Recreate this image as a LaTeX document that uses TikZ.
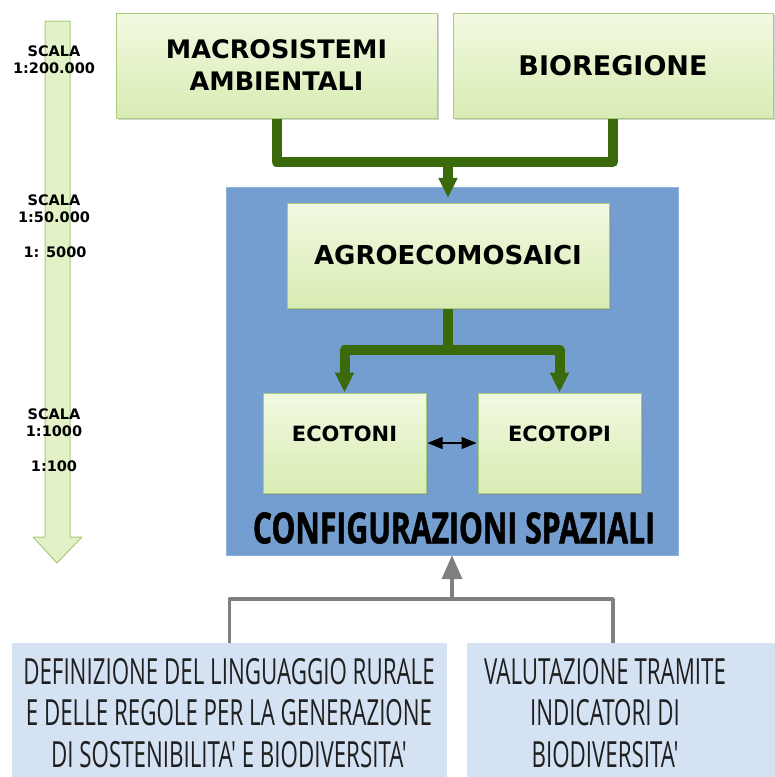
\documentclass[tikz,border=0pt]{standalone}
\usepackage{fontspec}
\setmainfont{DejaVu Sans}
\newfontfamily\condfont[FakeStretch=0.62]{Open Sans}
\newfontfamily\titlefont[FakeStretch=0.70,FakeBold=1.2]{Open Sans}
\usetikzlibrary{arrows.meta,shadows}
\definecolor{boxtop}{HTML}{F2F9E1}
\definecolor{boxbot}{HTML}{D8ECB3}
\definecolor{boxline}{HTML}{A9CC7C}
\definecolor{darkgreen}{HTML}{3B6A0C}
\definecolor{panelblue}{HTML}{739ECF}
\definecolor{paleblue}{HTML}{D5E2F3}
\definecolor{linegray}{HTML}{7F7F7F}

\begin{document}
\begin{tikzpicture}[line cap=butt,line join=round,x=1pt,y=-1pt,
	greenbox/.style={draw=boxline,line width=1pt,top color=boxtop,bottom color=boxbot,
		drop shadow={shadow xshift=1.5pt,shadow yshift=-1.5pt,opacity=0.35},
		inner sep=0pt,align=center,font=\bfseries\fontsize{25.5}{32}\selectfont},
	greenline/.style={draw=darkgreen,line width=10pt},
	greenarrow/.style={greenline,-{Triangle[width=18pt,length=20pt]}},
	scaletext/.style={font=\bfseries\fontsize{14.5}{17}\selectfont,align=center,inner sep=0pt},
	bluebox/.style={fill=paleblue,draw=none,inner sep=0pt},
	bluetext/.style={font=\condfont\fontsize{36}{41.5}\selectfont,align=center,text=black!88,inner sep=0pt}]
				\useasboundingbox (0,0) rectangle (775,777);
				% Scala
				\draw[draw=boxline,fill=boxbot!75!white,line width=1pt] (45,21)--(70,21)--(70,537)--(82,537)--(57,563)--(33,537)--(45,537)--cycle;
				\node[scaletext] (s1) at (54,60) {SCALA\\1:200.000};
				\node[scaletext] (s2) at (54,209) {SCALA\\1:50.000};
				\node[scaletext] (s3) at (55,252) {1: 5000};
				\node[scaletext] (s4) at (54,423) {SCALA\\1:1000};
				\node[scaletext] (s5) at (54,466) {1:100};
				% Livello 1
				\node[greenbox,minimum width=321,minimum height=105] (macro) at (276.5,65.5) {MACROSISTEMI\\AMBIENTALI};
				\node[greenbox,minimum width=320,minimum height=105,font=\bfseries\fontsize{27}{32}\selectfont] (bioreg) at (613,65.5) {BIOREGIONE};
				% Configurazioni
				\node[fill=panelblue,draw=panelblue!80!white,minimum width=452,minimum height=368,inner sep=0pt] (config) at (452,371) {};
				\node[font=\titlefont\bfseries\fontsize{43}{48}\selectfont,inner sep=0pt] (configtxt) at (454,528) {CONFIGURAZIONI SPAZIALI};
				\node[greenbox,minimum width=322,minimum height=105,font=\bfseries\fontsize{26}{32}\selectfont] (agro) at (448,255.5) {AGROECOMOSAICI};
				\node[greenbox,minimum width=163,minimum height=100,font=\bfseries\fontsize{21}{26}\selectfont,text depth=18pt] (ecotoni) at (344.5,443) {ECOTONI};
				\node[greenbox,minimum width=163,minimum height=100,font=\bfseries\fontsize{21}{26}\selectfont,text depth=18pt] (ecotopi) at (559.5,443) {ECOTOPI};
				% Frecce verdi
				\coordinate (jn1) at (448,162);
				\draw[greenline] (macro.south) |- (jn1) -| (bioreg.south);
				\draw[greenarrow] (jn1) -- ([yshift=-11pt]jn1 |- config.north);
				\coordinate (jn2) at (448,350);
				\draw[greenline] (agro.south) -- (jn2);
				\draw[greenarrow] (jn2) -| (ecotoni.north);
				\draw[greenarrow] (jn2) -| (ecotopi.north);
				\draw[line width=1.2pt,{Triangle[length=15pt,width=12pt]}-{Triangle[length=15pt,width=12pt]}] ([xshift=1pt]ecotoni.east) -- ([xshift=-1pt]ecotopi.west);
				% Livello inferiore
				\node[bluebox,minimum width=435,minimum height=134] (defin) at (229.5,710) {};
				\node[bluetext] (defintxt) at (229,713) {DEFINIZIONE DEL LINGUAGGIO RURALE\\E DELLE REGOLE PER LA GENERAZIONE\\DI SOSTENIBILITA' E BIODIVERSITA'};
				\node[bluebox,minimum width=308,minimum height=134] (valut) at (621,710) {};
				\node[bluetext] (valuttxt) at (605,713) {VALUTAZIONE TRAMITE\\INDICATORI DI\\BIODIVERSITA'};
				\coordinate (jn3) at (452,599);
				\draw[draw=linegray,line width=3.5pt] (defin.north) |- (jn3) -| ([xshift=-8pt]valut.north);
				\draw[draw=linegray,line width=3.5pt,-{Triangle[width=20pt,length=24pt]}] (jn3) -- (config.south);
		\end{tikzpicture}
\end{document}
